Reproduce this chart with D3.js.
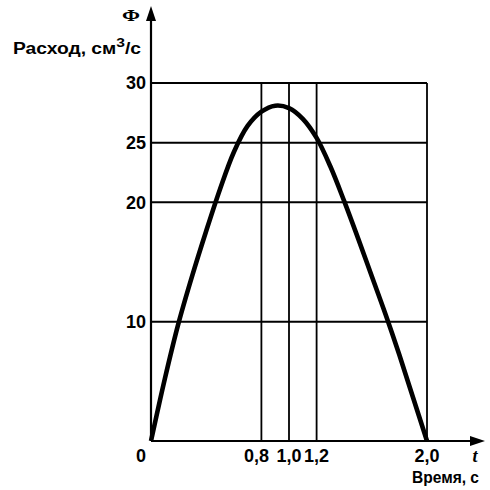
<!DOCTYPE html>
<html>
<head>
<meta charset="utf-8">
<script src="https://cdn.jsdelivr.net/npm/d3@7"></script>
<style>
  body { margin: 0; background: #fff; }
  svg text { font-family: "Liberation Sans", Arial, sans-serif; font-weight: bold; fill: #000; }
</style>
</head>
<body>
<div id="chart"></div>
<script>
// time, s
const times = [0, 0.1, 0.2, 0.3, 0.4, 0.5, 0.6, 0.7, 0.8, 0.9, 1.0, 1.1, 1.2, 1.3, 1.4, 1.5, 1.6, 1.7, 1.8, 1.9, 2.0];
// flow, cm3/s
const flow = [0, 5.2, 9.9, 13.9, 17.6, 21.1, 24.2, 26.4, 27.6, 28.1, 27.9, 27.0, 25.4, 23.0, 20.1, 17.0, 13.8, 10.6, 7.2, 3.6, 0];
const yTicks = [10, 20, 25, 30];
const xGrid = [0.8, 1.0, 1.2, 2.0];
const xTickLabels = ["0,8", "1,0", "1,2", "2,0"];

const W = 490, H = 490;
const svg = d3.select("#chart").append("svg")
    .attr("width", W)
    .attr("height", H)
    .attr("viewBox", "0 0 " + W + " " + H);

let x = d3.scaleLinear().domain([0, 2]).range([151, 427]),
    y = d3.scaleLinear().domain([0, 30]).range([441, 83]);

// horizontal grid
svg.append("g").selectAll("line")
    .data(yTicks)
    .enter().append("line")
    .attr("x1", x(0)).attr("x2", x(2))
    .attr("y1", (d) => y(d)).attr("y2", (d) => y(d))
    .attr("stroke", "#000").attr("stroke-width", 2);

// vertical grid
svg.append("g").selectAll("line")
    .data(xGrid)
    .enter().append("line")
    .attr("x1", (d) => x(d)).attr("x2", (d) => x(d))
    .attr("y1", y(0)).attr("y2", y(30))
    .attr("stroke", "#000").attr("stroke-width", 1.8);

// axes with arrows
svg.append("line")
    .attr("x1", x(0)).attr("x2", x(0))
    .attr("y1", y(0)).attr("y2", 14)
    .attr("stroke", "#000").attr("stroke-width", 2.2);
svg.append("path")
    .attr("d", "M" + x(0) + ",6 L" + (x(0) - 5) + ",21 L" + (x(0) + 5) + ",21 Z")
    .attr("fill", "#000");

svg.append("line")
    .attr("x1", x(0)).attr("x2", 476)
    .attr("y1", y(0)).attr("y2", y(0))
    .attr("stroke", "#000").attr("stroke-width", 2.2);
svg.append("path")
    .attr("d", "M485," + y(0) + " L470," + (y(0) - 5) + " L470," + (y(0) + 5) + " Z")
    .attr("fill", "#000");

// curve
let line = d3.line()
    .x((d, i) => x(times[i]))
    .y((d) => y(d))
    .curve(d3.curveCatmullRom.alpha(0.5));
svg.append("path")
    .datum(flow)
    .attr("d", line)
    .attr("fill", "none")
    .attr("stroke", "#000")
    .attr("stroke-width", 4.6)
    .attr("stroke-linejoin", "round");

// y tick labels
svg.append("g").selectAll("text")
    .data(yTicks)
    .enter().append("text")
    .attr("x", 146)
    .attr("y", (d) => y(d))
    .attr("dy", "0.36em")
    .attr("text-anchor", "end")
    .attr("font-size", 18)
    .text((d) => d);

// x tick labels
svg.append("g").selectAll("text")
    .data(xGrid)
    .enter().append("text")
    .attr("x", (d) => x(d))
    .attr("dx", (d, i) => i == 0 ? -5 : 0)
    .attr("y", 462)
    .attr("text-anchor", "middle")
    .attr("font-size", 18)
    .text((d, i) => xTickLabels[i]);

svg.append("text")
    .attr("x", 141).attr("y", 462)
    .attr("text-anchor", "middle")
    .attr("font-size", 18)
    .text("0");

// axis titles
svg.append("text")
    .attr("x", 122).attr("y", 21)
    .attr("font-size", 17)
    .attr("textLength", 18)
    .attr("lengthAdjust", "spacingAndGlyphs")
    .style("font-family", "'Liberation Serif', serif")
    .text("Φ");

let yt = svg.append("text")
    .attr("x", 13).attr("y", 54)
    .attr("font-size", 16)
    .attr("textLength", 128)
    .attr("lengthAdjust", "spacingAndGlyphs");
yt.append("tspan").text("Расход, см");
yt.append("tspan").attr("dy", -7).attr("font-size", 13).text("3");
yt.append("tspan").attr("dy", 7).text("/с");

svg.append("text")
    .attr("x", 475).attr("y", 462)
    .attr("text-anchor", "middle")
    .attr("font-size", 18)
    .style("font-family", "'Liberation Serif', serif")
    .style("font-style", "italic")
    .text("t");

svg.append("text")
    .attr("x", 412).attr("y", 483)
    .attr("font-size", 16)
    .attr("textLength", 67)
    .attr("lengthAdjust", "spacingAndGlyphs")
    .text("Время, с");
</script>
</body>
</html>
